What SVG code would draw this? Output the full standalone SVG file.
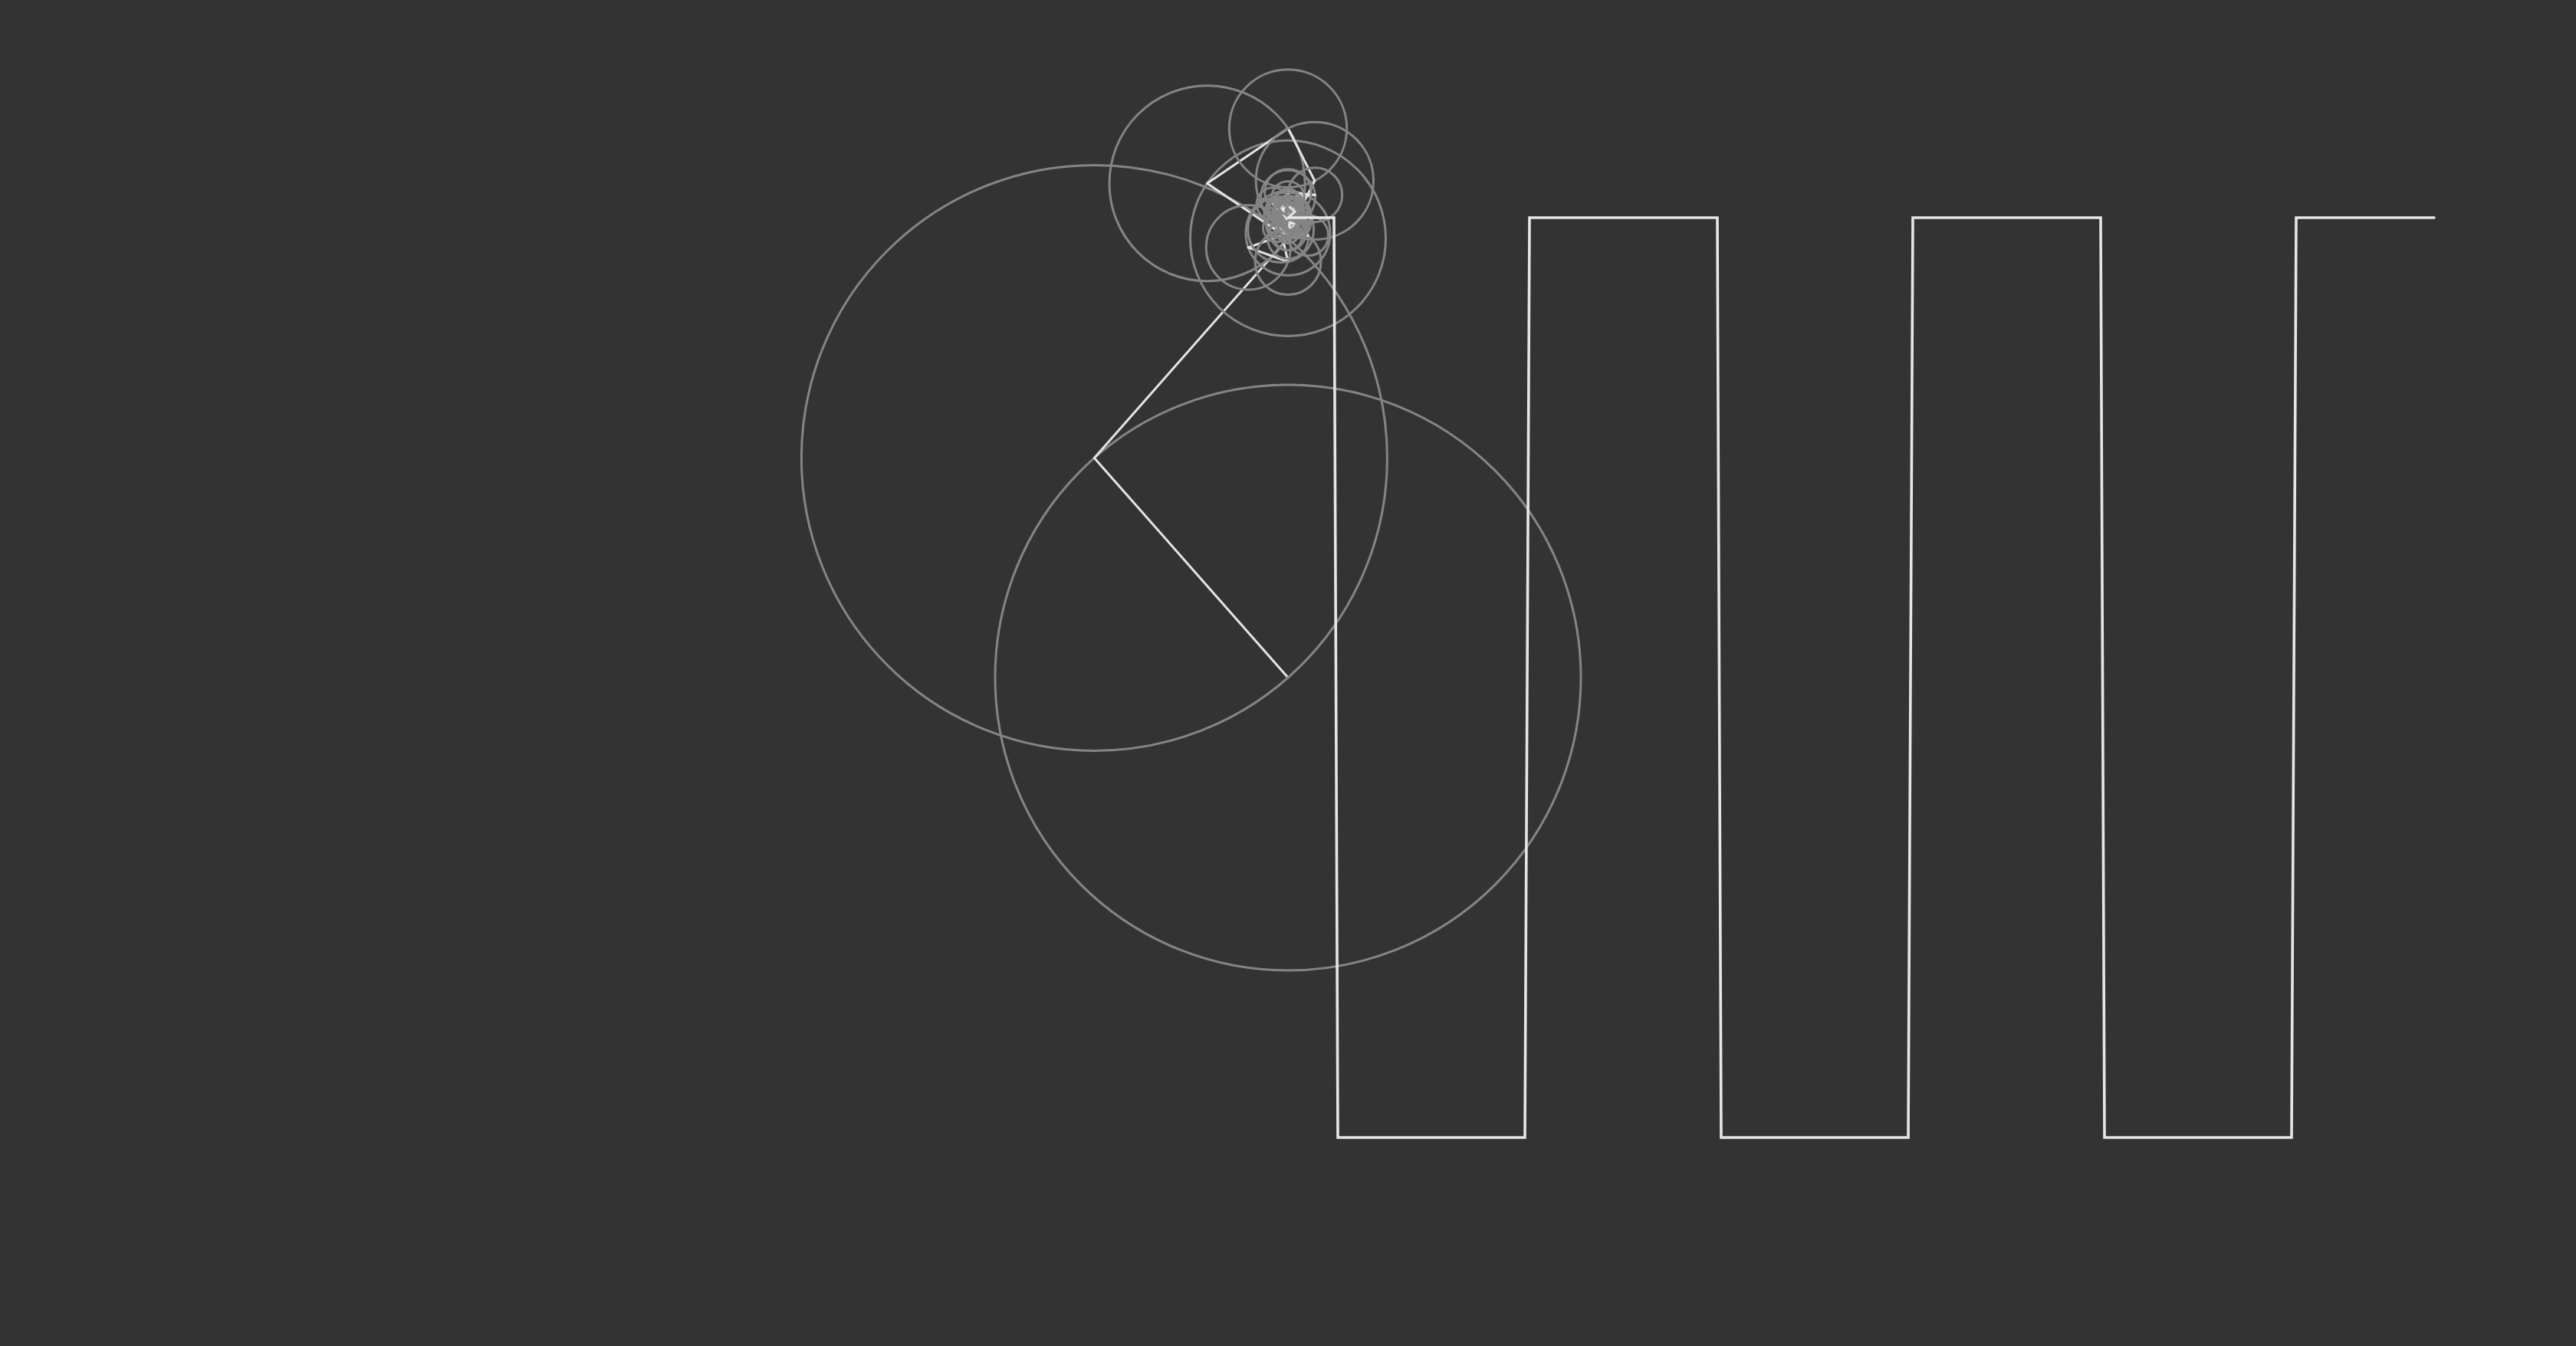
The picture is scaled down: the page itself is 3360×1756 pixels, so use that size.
<svg xmlns="http://www.w3.org/2000/svg" width="3360" height="1756" viewBox="0 0 3360 1756">
<style>
.c{fill:none;stroke:#858585;stroke-width:3}
.a{stroke:#e4e4e4;stroke-width:3;stroke-linecap:round}
.w{fill:none;stroke:#e6e6e6;stroke-width:3.6;stroke-linejoin:miter;stroke-linecap:round}
</style>
<rect x="0" y="0" width="3360" height="1756" fill="#333333"/>
<g id="epicycles">
<circle class="c" cx="1680" cy="884" r="382.03"/><line class="a" x1="1680" y1="884" x2="1427.36" y2="597.44"/>
<circle class="c" cx="1427.36" cy="597.44" r="382.03"/><line class="a" x1="1427.36" y1="597.44" x2="1680" y2="310.88"/>
<circle class="c" cx="1680" cy="310.88" r="127.51"/><line class="a" x1="1680" y1="310.88" x2="1574.54" y2="239.21"/>
<circle class="c" cx="1574.54" cy="239.21" r="127.51"/><line class="a" x1="1574.54" y1="239.21" x2="1680" y2="167.54"/>
<circle class="c" cx="1680" cy="167.54" r="76.71"/><line class="a" x1="1680" y1="167.54" x2="1714.83" y2="235.89"/>
<circle class="c" cx="1714.83" cy="235.89" r="76.71"/><line class="a" x1="1714.83" y1="235.89" x2="1680" y2="304.24"/>
<circle class="c" cx="1680" cy="304.24" r="55.01"/><line class="a" x1="1680" y1="304.24" x2="1628.24" y2="322.87"/>
<circle class="c" cx="1628.24" cy="322.87" r="55.01"/><line class="a" x1="1628.24" y1="322.87" x2="1680" y2="341.51"/>
<circle class="c" cx="1680" cy="341.51" r="43.01"/><line class="a" x1="1680" y1="341.51" x2="1670.62" y2="299.53"/>
<circle class="c" cx="1670.62" cy="299.53" r="43.01"/><line class="a" x1="1670.62" y1="299.53" x2="1680" y2="257.55"/>
<circle class="c" cx="1680" cy="257.55" r="35.43"/><line class="a" x1="1680" y1="257.55" x2="1715.27" y2="254.22"/>
<circle class="c" cx="1715.27" cy="254.22" r="35.43"/><line class="a" x1="1715.27" y1="254.22" x2="1680" y2="250.88"/>
<circle class="c" cx="1680" cy="250.88" r="30.22"/><line class="a" x1="1680" y1="250.88" x2="1679.05" y2="281.08"/>
<circle class="c" cx="1679.05" cy="281.08" r="30.22"/><line class="a" x1="1679.05" y1="281.08" x2="1680" y2="311.28"/>
<circle class="c" cx="1680" cy="311.28" r="26.43"/><line class="a" x1="1680" y1="311.28" x2="1706.11" y2="307.15"/>
<circle class="c" cx="1706.11" cy="307.15" r="26.43"/><line class="a" x1="1706.11" y1="307.15" x2="1680" y2="303.01"/>
<circle class="c" cx="1680" cy="303.01" r="23.57"/><line class="a" x1="1680" y1="303.01" x2="1686.58" y2="280.37"/>
<circle class="c" cx="1686.58" cy="280.37" r="23.57"/><line class="a" x1="1686.58" y1="280.37" x2="1680" y2="257.73"/>
<circle class="c" cx="1680" cy="257.73" r="21.35"/><line class="a" x1="1680" y1="257.73" x2="1660.41" y2="266.21"/>
<circle class="c" cx="1660.41" cy="266.21" r="21.35"/><line class="a" x1="1660.41" y1="266.21" x2="1680" y2="274.69"/>
<circle class="c" cx="1680" cy="274.69" r="19.58"/><line class="a" x1="1680" y1="274.69" x2="1689.97" y2="291.54"/>
<circle class="c" cx="1689.97" cy="291.54" r="19.58"/><line class="a" x1="1689.97" y1="291.54" x2="1680" y2="308.40"/>
<circle class="c" cx="1680" cy="308.40" r="18.15"/><line class="a" x1="1680" y1="308.40" x2="1665.66" y2="297.28"/>
<circle class="c" cx="1665.66" cy="297.28" r="18.15"/><line class="a" x1="1665.66" y1="297.28" x2="1680" y2="286.16"/>
<circle class="c" cx="1680" cy="286.16" r="16.97"/><line class="a" x1="1680" y1="286.16" x2="1668.00" y2="274.16"/>
<circle class="c" cx="1668.00" cy="274.16" r="16.97"/><line class="a" x1="1668.00" y1="274.16" x2="1680" y2="262.16"/>
<circle class="c" cx="1680" cy="262.16" r="16.00"/><line class="a" x1="1680" y1="262.16" x2="1689.81" y2="274.80"/>
<circle class="c" cx="1689.81" cy="274.80" r="16.00"/><line class="a" x1="1689.81" y1="274.80" x2="1680" y2="287.44"/>
<circle class="c" cx="1680" cy="287.44" r="15.19"/><line class="a" x1="1680" y1="287.44" x2="1666.93" y2="295.17"/>
<circle class="c" cx="1666.93" cy="295.17" r="15.19"/><line class="a" x1="1666.93" y1="295.17" x2="1680" y2="302.90"/>
<circle class="c" cx="1680" cy="302.90" r="14.51"/><line class="a" x1="1680" y1="302.90" x2="1685.76" y2="289.58"/>
<circle class="c" cx="1685.76" cy="289.58" r="14.51"/><line class="a" x1="1685.76" y1="289.58" x2="1680" y2="276.27"/>
<circle class="c" cx="1680" cy="276.27" r="13.94"/><line class="a" x1="1680" y1="276.27" x2="1666.61" y2="272.38"/>
<circle class="c" cx="1666.61" cy="272.38" r="13.94"/><line class="a" x1="1666.61" y1="272.38" x2="1680" y2="268.49"/>
<circle class="c" cx="1680" cy="268.49" r="13.47"/><line class="a" x1="1680" y1="268.49" x2="1682.11" y2="281.79"/>
<circle class="c" cx="1682.11" cy="281.79" r="13.47"/><line class="a" x1="1682.11" y1="281.79" x2="1680" y2="295.09"/>
<circle class="c" cx="1680" cy="295.09" r="13.08"/><line class="a" x1="1680" y1="295.09" x2="1693.07" y2="295.50"/>
<circle class="c" cx="1693.07" cy="295.50" r="13.08"/><line class="a" x1="1693.07" y1="295.50" x2="1680" y2="295.91"/>
<circle class="c" cx="1680" cy="295.91" r="12.75"/><line class="a" x1="1680" y1="295.91" x2="1678.80" y2="283.21"/>
<circle class="c" cx="1678.80" cy="283.21" r="12.75"/><line class="a" x1="1678.80" y1="283.21" x2="1680" y2="270.52"/>
<circle class="c" cx="1680" cy="270.52" r="12.50"/><line class="a" x1="1680" y1="270.52" x2="1667.80" y2="273.25"/>
<circle class="c" cx="1667.80" cy="273.25" r="12.50"/><line class="a" x1="1667.80" y1="273.25" x2="1680" y2="275.97"/>
<circle class="c" cx="1680" cy="275.97" r="12.30"/><line class="a" x1="1680" y1="275.97" x2="1684.17" y2="287.54"/>
<circle class="c" cx="1684.17" cy="287.54" r="12.30"/><line class="a" x1="1684.17" y1="287.54" x2="1680" y2="299.11"/>
<circle class="c" cx="1680" cy="299.11" r="12.15"/><line class="a" x1="1680" y1="299.11" x2="1690.83" y2="293.59"/>
<circle class="c" cx="1690.83" cy="293.59" r="12.15"/><line class="a" x1="1690.83" y1="293.59" x2="1680" y2="288.08"/>
<circle class="c" cx="1680" cy="288.08" r="12.05"/><line class="a" x1="1680" y1="288.08" x2="1673.22" y2="278.11"/>
<circle class="c" cx="1673.22" cy="278.11" r="12.05"/><line class="a" x1="1673.22" y1="278.11" x2="1680" y2="268.14"/>
<circle class="c" cx="1680" cy="268.14" r="12.01"/><line class="a" x1="1680" y1="268.14" x2="1689.01" y2="276.08"/>
<circle class="c" cx="1689.01" cy="276.08" r="12.01"/><line class="a" x1="1689.01" y1="276.08" x2="1680" y2="284.02"/>
</g>
<g id="wave">
<polyline class="w" points="1680,284 1740,284 1745,1484 1989,1484 1995,284 2240,284 2245,1484 2489,1484 2495,284 2740,284 2745,1484 2989,1484 2995,284 3175,284"/>
</g>
</svg>
